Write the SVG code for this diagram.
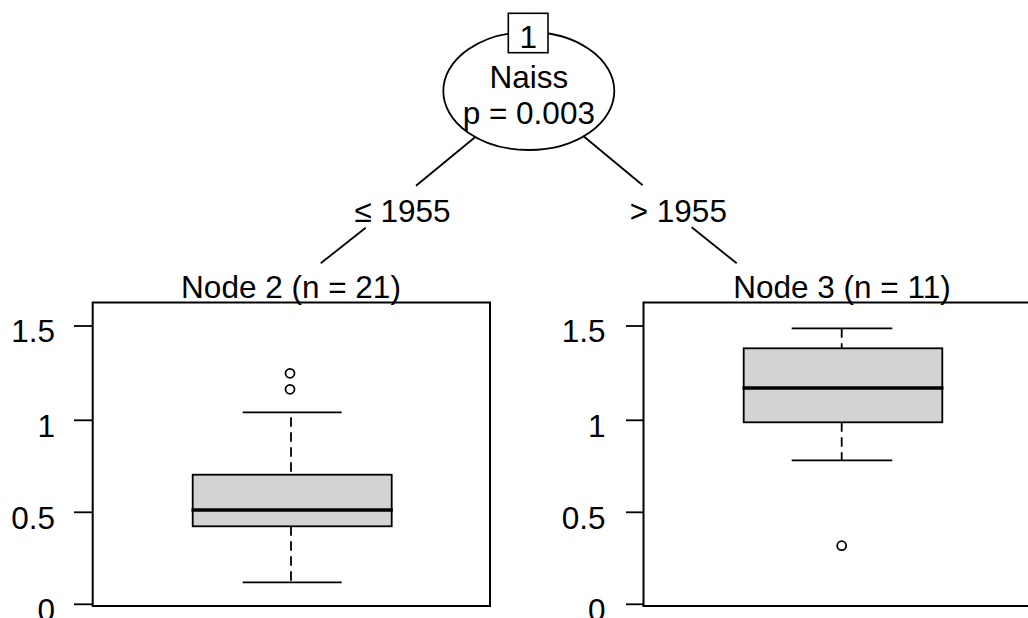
<svg xmlns="http://www.w3.org/2000/svg" width="1028" height="618" viewBox="0 0 1028 618">
<style>
text{font-family:"Liberation Sans",Arial,sans-serif;font-size:31.5px;fill:#000}
.m{text-anchor:middle}
.e{text-anchor:end}
.ln{stroke:#000;stroke-width:1.8;fill:none}
.fr{stroke:#000;stroke-width:2;fill:none}
.bx{stroke:#000;stroke-width:1.8;fill:#d3d3d3}
.med{stroke:#000;stroke-width:3.6}
.wh{stroke:#000;stroke-width:1.8;stroke-dasharray:9.5 5.5;stroke-dashoffset:10}
.out{stroke:#000;stroke-width:1.8;fill:none}
</style>
<rect width="1028" height="618" fill="#fff"/>
<g id="connectors">
<line class="ln" x1="475" y1="137.3" x2="416" y2="185.7"/>
<line class="ln" x1="365.7" y1="227.7" x2="320.7" y2="263.3"/>
<line class="ln" x1="583.3" y1="136" x2="642.7" y2="185.3"/>
<line class="ln" x1="691.7" y1="227.3" x2="736.7" y2="263.3"/>
<text class="m" x="402.5" y="221.7">≤ 1955</text>
<text class="m" x="678.3" y="221.7">&gt; 1955</text>
</g>
<g id="node1">
<ellipse class="ln" cx="528.8" cy="91" rx="85.5" ry="59"/>
<rect x="508.3" y="13.3" width="39.7" height="39.4" fill="#fff" stroke="#000" stroke-width="1.6"/>
<text class="m" x="528.2" y="48">1</text>
<text class="m" x="528.8" y="88">Naiss</text>
<text class="m" x="528.8" y="123.5">p = 0.003</text>
</g>
<g id="node2">
<text class="m" x="291" y="298.3">Node 2 (n = 21)</text>
<rect class="fr" x="92.7" y="302.5" width="397.3" height="303.5"/>
<line class="ln" x1="74" y1="326" x2="92.7" y2="326"/>
<line class="ln" x1="74" y1="420.3" x2="92.7" y2="420.3"/>
<line class="ln" x1="74" y1="512.3" x2="92.7" y2="512.3"/>
<line class="ln" x1="74" y1="604.3" x2="92.7" y2="604.3"/>
<text class="e" x="55" y="342.3">1.5</text>
<text class="e" x="55" y="436.5">1</text>
<text class="e" x="55" y="528.5">0.5</text>
<text class="e" x="55" y="620.5">0</text>
<line class="wh" x1="291" y1="412.3" x2="291" y2="474.7"/>
<line class="wh" x1="291" y1="526.3" x2="291" y2="582.3" style="stroke-dashoffset:0"/>
<line class="ln" x1="242.7" y1="412.3" x2="341.7" y2="412.3"/>
<line class="ln" x1="242.7" y1="582.3" x2="341.7" y2="582.3"/>
<rect class="bx" x="192.7" y="474.7" width="199" height="51.6"/>
<line class="med" x1="191.5" y1="510" x2="392.8" y2="510"/>
<circle class="out" cx="290" cy="373.3" r="4.5"/>
<circle class="out" cx="290" cy="389.3" r="4.5"/>
</g>
<g id="node3">
<text class="m" x="842" y="298.3">Node 3 (n = 11)</text>
<rect class="fr" x="643.5" y="302.5" width="397.3" height="303.5"/>
<line class="ln" x1="626" y1="326" x2="643.5" y2="326"/>
<line class="ln" x1="626" y1="420.3" x2="643.5" y2="420.3"/>
<line class="ln" x1="626" y1="512.3" x2="643.5" y2="512.3"/>
<line class="ln" x1="626" y1="604.3" x2="643.5" y2="604.3"/>
<text class="e" x="605.5" y="342.3">1.5</text>
<text class="e" x="605.5" y="436.5">1</text>
<text class="e" x="605.5" y="528.5">0.5</text>
<text class="e" x="605.5" y="620.5">0</text>
<line class="wh" x1="841.7" y1="328.3" x2="841.7" y2="348.3" style="stroke-dashoffset:0"/>
<line class="wh" x1="841.7" y1="422.3" x2="841.7" y2="460.3" style="stroke-dashoffset:0"/>
<line class="ln" x1="791.7" y1="328.3" x2="892.3" y2="328.3"/>
<line class="ln" x1="791.7" y1="460.3" x2="892.3" y2="460.3"/>
<rect class="bx" x="743.7" y="348.3" width="198.6" height="74"/>
<line class="med" x1="742.5" y1="388" x2="943.5" y2="388"/>
<circle class="out" cx="841.7" cy="545.7" r="4.5"/>
</g>
</svg>
